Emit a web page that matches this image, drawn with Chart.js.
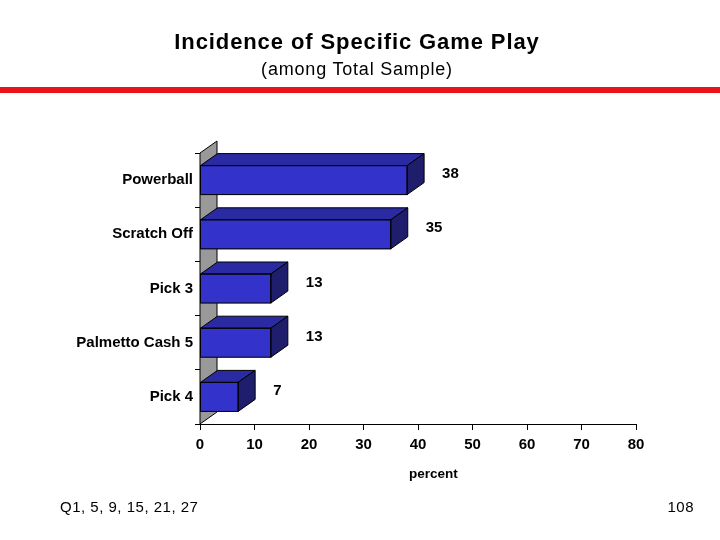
<!DOCTYPE html>
<html>
<head>
<meta charset="utf-8">
<script src="https://cdn.jsdelivr.net/npm/chart.js@4/dist/chart.umd.min.js"></script>
<style>
  html, body { margin: 0; padding: 0; background: #fff; }
  body { width: 720px; height: 540px; position: relative; overflow: hidden; font-family: "Liberation Sans", Arial, sans-serif; }
  #wrap { position: absolute; left: 0; top: 0; width: 720px; height: 540px; }
  .t { position: absolute; white-space: nowrap; color: #000; }
  #title { left: 0; width: 714px; text-align: center; top: 29px; font-size: 22px; font-weight: bold; letter-spacing: 0.9px; }
  #sub { left: 0; width: 714px; text-align: center; top: 59px; font-size: 18px; letter-spacing: 0.8px; }
  #redline { position: absolute; left: 0; top: 87px; width: 720px; height: 6px; background: #E8141A; }
  #foot1 { left: 60px; top: 498px; font-size: 15px; letter-spacing: 0.5px; }
  #foot2 { right: 26px; top: 498px; font-size: 15px; letter-spacing: 0.5px; }
  #xtitle { left: 409px; top: 466px; font-size: 13.5px; font-weight: bold; }
</style>
</head>
<body>
<div id="wrap"><canvas id="c" width="720" height="540"></canvas></div>
<div class="t" id="title">Incidence of Specific Game Play</div>
<div class="t" id="sub">(among Total Sample)</div>
<div id="redline"></div>
<div class="t" id="xtitle">percent</div>
<div class="t" id="foot1">Q1, 5, 9, 15, 21, 27</div>
<div class="t" id="foot2">108</div>
<script>
const categories = ["Powerball", "Scratch Off", "Pick 3", "Palmetto Cash 5", "Pick 4"];
const values = [38, 35, 13, 13, 7];
const xTicks = [0, 10, 20, 30, 40, 50, 60, 70, 80];

const DX = 17, DY = 12;

const bar3d = {
  id: 'bar3d',
  beforeDatasetsDraw(chart) {
    const ctx = chart.ctx, a = chart.chartArea;
    ctx.save();
    ctx.beginPath();
    ctx.moveTo(a.left, a.bottom);
    ctx.lineTo(a.left + DX, a.bottom - DY);
    ctx.lineTo(a.left + DX, a.top - DY);
    ctx.lineTo(a.left, a.top);
    ctx.closePath();
    ctx.fillStyle = '#999999';
    ctx.fill();
    ctx.strokeStyle = '#000';
    ctx.lineWidth = 1;
    ctx.stroke();
    ctx.restore();
  },
  afterDatasetsDraw(chart) {
    const ctx = chart.ctx;
    const meta = chart.getDatasetMeta(0);
    ctx.save();
    ctx.lineWidth = 1;
    ctx.strokeStyle = '#000';
    meta.data.forEach((el, i) => {
      const p = el.getProps(['x', 'y', 'base', 'height'], true);
      const x0 = p.base, x1 = p.x, yt = p.y - p.height / 2, yb = p.y + p.height / 2;
      ctx.beginPath();
      ctx.moveTo(x0, yt);
      ctx.lineTo(x0 + DX, yt - DY);
      ctx.lineTo(x1 + DX, yt - DY);
      ctx.lineTo(x1, yt);
      ctx.closePath();
      ctx.fillStyle = '#2A2AA2';
      ctx.fill(); ctx.stroke();
      ctx.beginPath();
      ctx.moveTo(x1, yt);
      ctx.lineTo(x1 + DX, yt - DY);
      ctx.lineTo(x1 + DX, yb - DY);
      ctx.lineTo(x1, yb);
      ctx.closePath();
      ctx.fillStyle = '#1E1E6C';
      ctx.fill(); ctx.stroke();
      ctx.strokeRect(x0, yt, x1 - x0, yb - yt);
      ctx.fillStyle = '#000';
      ctx.font = 'bold 15px "Liberation Sans", Arial, sans-serif';
      ctx.textAlign = 'left';
      ctx.textBaseline = 'middle';
      ctx.fillText(String(values[i]), x1 + 35, p.y - 6);
    });
    ctx.restore();
  }
};

new Chart(document.getElementById('c'), {
  type: 'bar',
  data: {
    labels: categories,
    datasets: [{
      data: values,
      backgroundColor: '#3333CC',
      borderWidth: 0,
      barThickness: 29
    }]
  },
  options: {
    indexAxis: 'y',
    responsive: false,
    animation: false,
    devicePixelRatio: 1,
    layout: { padding: { left: 0, top: 153, right: 84, bottom: 56 } },
    plugins: { legend: { display: false }, tooltip: { enabled: false }, title: { display: false } },
    scales: {
      x: {
        min: 0, max: 80,
        afterFit(s) { s.height = 60; },
        afterBuildTicks(s) { s.ticks = xTicks.map(v => ({ value: v })); },
        grid: { drawOnChartArea: false, drawTicks: true, tickLength: 6, color: '#000', lineWidth: 1 },
        border: { display: true, color: '#000', width: 1 },
        ticks: { color: '#000', font: { family: '"Liberation Sans", Arial, sans-serif', size: 15, weight: 'bold' }, padding: 6 }
      },
      y: {
        afterFit(s) { s.width = 200; },
        grid: { drawOnChartArea: false, drawTicks: true, tickLength: 5, color: '#000', lineWidth: 1, offset: true },
        border: { display: true, color: '#000', width: 1 },
        ticks: { color: '#000', font: { family: '"Liberation Sans", Arial, sans-serif', size: 15, weight: 'bold' }, padding: 2 }
      }
    }
  },
  plugins: [bar3d]
});
</script>
</body>
</html>
